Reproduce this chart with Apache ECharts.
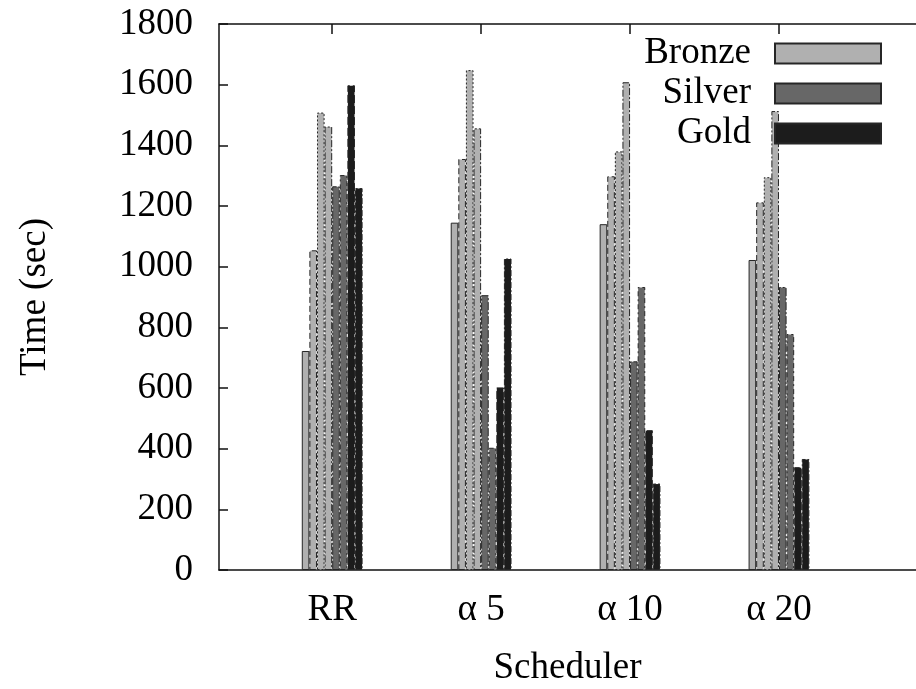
<!DOCTYPE html>
<html>
<head>
<meta charset="utf-8">
<title>Time per scheduler</title>
<script src="https://cdn.jsdelivr.net/npm/echarts@6/dist/echarts.min.js"></script>
<style>
  html, body { margin: 0; padding: 0; background: #fff; }
  #chart { width: 916px; height: 689px; }
</style>
</head>
<body>
<div id="chart"></div>
<script>
// Scheduler groups (x positions 0..3)
const schedulers = ['RR', 'α 5', 'α 10', 'α 20'];
const groupPos = [0, 1, 2, 3];

// Bronze jobs (four runs per scheduler)
const bronze1 = [722, 1145, 1140, 1022];
const bronze2 = [1054, 1355, 1298, 1212];
const bronze3 = [1508, 1648, 1380, 1295];
const bronze4 = [1462, 1456, 1608, 1513];
// Silver jobs (two runs)
const silver1 = [1265, 906, 688, 933];
const silver2 = [1302, 403, 933, 778];
// Gold jobs (two runs)
const gold1 = [1598, 602, 461, 339];
const gold2 = [1259, 1027, 285, 366];

const yTicks = [0, 200, 400, 600, 800, 1000, 1200, 1400, 1600, 1800];

const FONT = 'Liberation Serif';
const FS = 37;

const fills = { Bronze: '#b0b0b0', Silver: '#676767', Gold: '#1c1c1c' };

const runs = [
  { name: 'Bronze', values: bronze1, dash: 'solid' },
  { name: 'Bronze', values: bronze2, dash: [6, 3] },
  { name: 'Bronze', values: bronze3, dash: [2, 2] },
  { name: 'Bronze', values: bronze4, dash: [7, 2, 2, 2] },
  { name: 'Silver', values: silver1, dash: [8, 2, 2, 2] },
  { name: 'Silver', values: silver2, dash: [5, 3, 2, 3] },
  { name: 'Gold', values: gold1, dash: [8, 3] },
  { name: 'Gold', values: gold2, dash: [6, 2, 2, 2] }
];

const series = runs.map(r => ({
  type: 'bar',
  name: r.name,
  barWidth: 7.6,
  barGap: '0%',
  data: groupPos.map((x, i) => [x, r.values[i]]),
  itemStyle: {
    color: fills[r.name],
    borderColor: '#262626',
    borderWidth: 1,
    borderType: r.dash
  },
  emphasis: { disabled: true }
}));

const chart = echarts.init(document.getElementById('chart'), null, { renderer: 'canvas' });

chart.setOption({
  animation: false,
  backgroundColor: '#ffffff',
  textStyle: { fontFamily: FONT },
  grid: { left: 219, right: 0, top: 24, bottom: 119, containLabel: false, outerBoundsMode: 'none' },
  legend: {
    orient: 'vertical',
    right: 34,
    top: 35,
    padding: 0,
    align: 'right',
    icon: 'rect',
    itemWidth: 106,
    itemHeight: 20,
    itemGap: 3,
    selectedMode: false,
    data: ['Bronze', 'Silver', 'Gold'],
    textStyle: {
      fontFamily: FONT,
      fontSize: FS,
      lineHeight: 37,
      color: '#000',
      padding: [0, 19, 0, 0]
    }
  },
  xAxis: [
    {
      type: 'value',
      position: 'bottom',
      min: -0.76,
      max: 3.92,
      splitLine: { show: false },
      axisLine: { show: true, onZero: false, lineStyle: { color: '#111', width: 1.5 } },
      axisTick: { show: false },
      axisLabel: {
        customValues: groupPos,
        formatter: v => schedulers[Math.round(v)] || '',
        fontFamily: FONT, fontSize: FS, color: '#000', margin: 22
      },
      name: 'Scheduler',
      nameLocation: 'middle',
      nameGap: 80,
      nameTextStyle: { fontFamily: FONT, fontSize: FS, color: '#000' }
    },
    {
      // top edge of the frame, with inward ticks at each scheduler group
      type: 'value',
      position: 'top',
      min: -0.76,
      max: 3.92,
      splitLine: { show: false },
      axisLine: { show: true, onZero: false, lineStyle: { color: '#111', width: 1.5 } },
      axisTick: { show: true, inside: true, length: 10, customValues: groupPos,
                  lineStyle: { color: '#111', width: 1.5 } },
      axisLabel: { show: false }
    }
  ],
  yAxis: {
    type: 'value',
    min: 0,
    max: 1800,
    interval: 200,
    splitLine: { show: false },
    axisLine: { show: true, onZero: false, lineStyle: { color: '#111', width: 1.5 } },
    axisTick: { show: true, inside: true, length: 9, lineStyle: { color: '#111', width: 1.5 } },
    axisLabel: {
      fontFamily: FONT, fontSize: FS, color: '#000', margin: 26,
      formatter: v => (yTicks.indexOf(v) >= 0 ? String(v) : '')
    },
    name: 'Time (sec)',
    nameLocation: 'middle',
    nameGap: 165,
    nameTextStyle: { fontFamily: FONT, fontSize: FS, color: '#000' }
  },
  series: series
});
</script>
</body>
</html>
